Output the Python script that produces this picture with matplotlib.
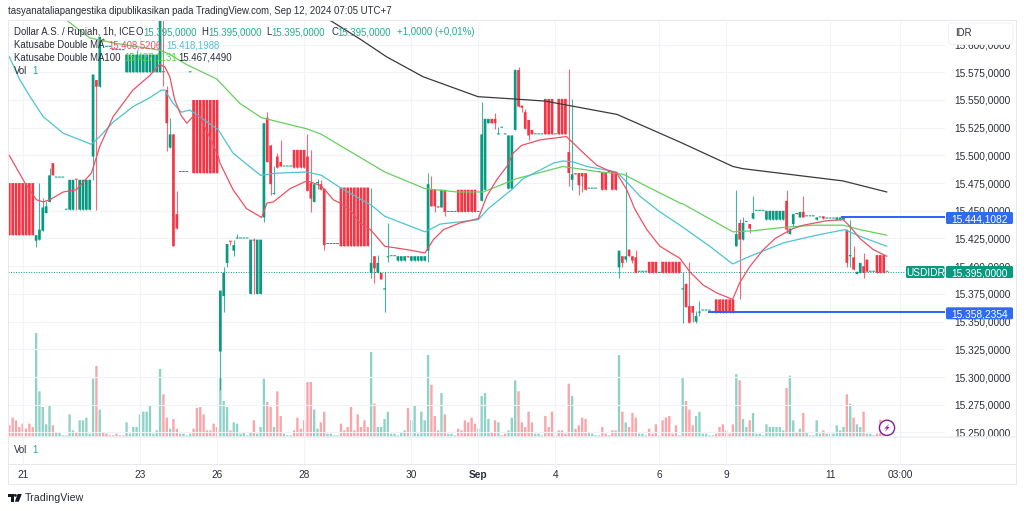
import matplotlib

matplotlib.use("Agg")
import matplotlib.pyplot as plt
import numpy as np
from matplotlib.patches import Circle, FancyBboxPatch, Polygon, Rectangle
from matplotlib.ticker import FuncFormatter

plt.rcParams["font.family"] = ["Liberation Sans", "DejaVu Sans"]

FS = 6.9
FS_SCALE = 7.3
UP = "#089981"
DOWN = "#F23645"
UP_VOL = "#8FD3C7"
DOWN_VOL = "#F9A5AA"
TEXT = "#2A2E39"
BLUE = "#2962FF"

# hourly bars
opens = (
    [15475] * 8 + [15423, 15424, 15432, 15448, 15458, 15493] + [15480] * 3 + [15451] * 3 + [15479] + [15451] * 4
    + [15499, 15568, 15562, 15605] + [15598] * 2 + [15595] * 4 + [15575] * 10 + [15575, 15576, 15559, 15507, 15519, 15447]
    + [15485] * 3 + [15575] + [15550] * 8 + [15323, 15373, 15403, 15423, 15414] + [15425] * 4
    + [15375, 15424, 15375, 15375, 15444, 15534, 15509, 15465, 15499, 15494] + [15490] * 3 + [15505] * 4
    + [15499, 15475, 15458, 15475, 15474, 15470] + [15420] * 4 + [15471] * 9
    + [15394, 15409, 15394, 15394, 15379, 15408, 15409, 15409] + [15405] * 3 + [15409] + [15405] * 5
    + [15414, 15469, 15469, 15454, 15453, 15469] + [15449] * 3 + [15469] * 6 + [15449]
    + [15459, 15469, 15529, 15533, 15533, 15519, 15525, 15519, 15470, 15470, 15523, 15577, 15545, 15539, 15532, 15523]
    + [15519] * 3 + [15551] * 3 + [15519] + [15551] * 3 + [15503, 15478, 15484, 15484, 15484, 15484]
    + [15470] * 3 + [15485] * 3 + [15485] + [15485] * 2
    + [15399, 15409, 15406, 15415, 15409, 15408] + [15395] * 3 + [15404] * 3 + [15394] + [15404] * 6
    + [15379, 15384, 15364, 15364, 15350, 15358] + [15360] * 3 + [15358] + [15370] * 6
    + [15418, 15439, 15424, 15440, 15438, 15443] + [15450] * 3 + [15442] * 6
    + [15459, 15429, 15438, 15448, 15444, 15449] + [15445] * 3 + [15442, 15444, 15445] + [15443] * 3 + [15442] * 3
    + [15433, 15409, 15408, 15393, 15394, 15400, 15406, 15395, 15395] + [15410] * 3 + [15395]
)
highs = (
    [15475] * 8 + [15428, 15475, 15462, 15459, 15489, 15493] + [15480] * 3 + [15451, 15478, 15478] + [15479] + [15478] * 4
    + [15573, 15568, 15607, 15606] + [15598] * 2 + [15595] * 4 + [15591] * 3 + [15595] + [15591] * 6
    + [15623, 15623, 15563, 15534, 15519, 15468]
    + [15485] * 3 + [15575] + [15550] * 8 + [15378, 15399, 15420, 15423, 15424] + [15429] + [15425] * 3
    + [15424, 15425, 15424, 15424, 15529, 15539, 15509, 15490, 15502, 15514] + [15490] * 3 + [15505] * 4
    + [15519, 15505, 15474, 15479, 15478, 15470] + [15420] * 4 + [15471] * 9
    + [15471, 15409, 15410, 15394, 15395, 15439, 15409, 15409] + [15409] * 3 + [15409] + [15409] * 5
    + [15484, 15481, 15469, 15454, 15469, 15469] + [15449] * 3 + [15469] * 6 + [15449]
    + [15548, 15533, 15533, 15533, 15538, 15526, 15525, 15519, 15518, 15518, 15578, 15580, 15545, 15542, 15532, 15523]
    + [15519] * 3 + [15551] * 3 + [15519] + [15551] * 3 + [15578, 15551, 15484, 15484, 15484, 15484]
    + [15470] * 3 + [15485] * 3 + [15485] + [15485] * 2
    + [15414, 15409, 15485, 15415, 15409, 15415] + [15395] * 3 + [15404] * 3 + [15394] + [15404] * 6
    + [15395, 15385, 15404, 15364, 15360, 15369] + [15360] * 3 + [15358] + [15370] * 6
    + [15469, 15443, 15444, 15440, 15438, 15463] + [15450] * 3 + [15450] * 6
    + [15469, 15434, 15447, 15448, 15449, 15463] + [15445] * 3 + [15444, 15444, 15445] + [15443] * 3 + [15444] * 3
    + [15433, 15442, 15418, 15395, 15403, 15412, 15406, 15395, 15395] + [15410] * 3 + [15395]
)
lows = (
    [15428] * 8 + [15417, 15424, 15432, 15448, 15458, 15482] + [15480] * 3 + [15451] * 3 + [15451] + [15451] * 4
    + [15478, 15451, 15562, 15603] + [15598] * 2 + [15595] * 4 + [15575] * 10 + [15575, 15563, 15504, 15507, 15418, 15434]
    + [15485] * 3 + [15575] + [15484] * 8 + [15288, 15359, 15399, 15419, 15409] + [15425] * 4
    + [15375, 15375, 15375, 15375, 15440, 15494, 15464, 15465, 15489, 15490] + [15490] * 3 + [15489] * 4
    + [15468, 15449, 15458, 15470, 15469, 15415] + [15420] * 4 + [15418] * 9
    + [15389, 15385, 15394, 15388, 15359, 15404, 15409, 15409] + [15405] * 3 + [15408] + [15405] * 5
    + [15404, 15454, 15449, 15453, 15453, 15445] + [15449] * 3 + [15449] * 6 + [15449]
    + [15459, 15469, 15529, 15529, 15524, 15519, 15525, 15519, 15470, 15470, 15523, 15544, 15539, 15524, 15514, 15519]
    + [15519] * 3 + [15519] * 3 + [15519] + [15519] * 3 + [15472, 15469, 15483, 15464, 15467, 15469]
    + [15470] * 3 + [15485, 15469, 15469] + [15485] + [15469] * 2
    + [15389, 15399, 15404, 15409, 15403, 15394] + [15395] * 3 + [15394] * 3 + [15394] + [15394] * 6
    + [15349, 15363, 15349, 15350, 15349, 15355] + [15360] * 3 + [15358] + [15358] * 6
    + [15418, 15370, 15424, 15440, 15430, 15443] + [15450] * 3 + [15442] * 6
    + [15430, 15429, 15435, 15447, 15444, 15444] + [15445] * 3 + [15442, 15444, 15443] + [15443] * 3 + [15442] * 3
    + [15399, 15399, 15397, 15393, 15394, 15389, 15395, 15395, 15395] + [15394] * 3 + [15395]
)
closes = (
    [15428] * 8 + [15428, 15433, 15453, 15454, 15482, 15482] + [15480] * 3 + [15451, 15478, 15478] + [15478] + [15478] * 4
    + [15573, 15562, 15607, 15603] + [15598] * 2 + [15595] * 4 + [15591] * 10 + [15623, 15575, 15529, 15519, 15418, 15434]
    + [15485] * 3 + [15575] + [15484] * 8 + [15378, 15394, 15420, 15422, 15419] + [15425] * 4
    + [15424, 15423, 15424, 15424, 15529, 15494, 15474, 15466, 15489, 15490] + [15490] * 3 + [15489] * 4
    + [15468, 15461, 15474, 15476, 15469, 15419] + [15420] * 4 + [15418] * 9
    + [15403, 15398, 15403, 15388, 15380, 15408, 15409, 15409] + [15409] * 3 + [15408] + [15409] * 5
    + [15474, 15454, 15454, 15453, 15469, 15449] + [15449] * 3 + [15449] * 6 + [15449]
    + [15519, 15533, 15533, 15529, 15529, 15519, 15525, 15519, 15518, 15518, 15577, 15544, 15543, 15524, 15518, 15519]
    + [15519] * 3 + [15519] * 3 + [15519] + [15519] * 3 + [15484, 15483, 15483, 15473, 15481, 15469]
    + [15470] * 3 + [15485, 15469, 15469] + [15485] + [15469] * 2
    + [15414, 15403, 15409, 15409, 15405, 15394] + [15395] * 3 + [15394] * 3 + [15394] + [15394] * 6
    + [15380, 15363, 15349, 15358, 15355, 15359] + [15360] * 3 + [15358] + [15358] * 6
    + [15429, 15424, 15439, 15440, 15434, 15448] + [15450] * 3 + [15450] * 6
    + [15433, 15434, 15447, 15447, 15449, 15444] + [15445] * 3 + [15444, 15444, 15443] + [15443] * 3 + [15444] * 3
    + [15403, 15410, 15397, 15395, 15403, 15394, 15395, 15395, 15395] + [15394] * 3 + [15395]
)

# chart-pane volume (arbitrary units) and whether each bar is up
volumes = [
    35, 58, 50, 30, 40, 25, 40, 30, 312, 137, 90, 38, 95, 35, 15, 15, 5, 5, 68, 20,
    15, 50, 50, 58, 10, 175, 213, 82, 15, 10, 5, 5, 10, 5, 5, 44, 10, 30, 30, 68,
    76, 76, 95, 10, 20, 204, 128, 58, 25, 54, 25, 10, 10, 5, 10, 25, 87, 90, 68, 20,
    20, 40, 30, 180, 108, 90, 20, 44, 40, 10, 15, 5, 15, 50, 10, 30, 175, 105, 90, 30,
    137, 63, 10, 5, 5, 20, 58, 25, 50, 165, 165, 82, 25, 44, 76, 10, 10, 5, 5, 40,
    20, 30, 90, 20, 68, 30, 50, 30, 255, 100, 30, 30, 54, 76, 10, 10, 5, 15, 20, 87,
    50, 95, 10, 76, 50, 246, 157, 63, 20, 132, 68, 10, 10, 5, 25, 20, 50, 44, 58, 40,
    25, 123, 132, 54, 15, 50, 44, 5, 10, 20, 58, 170, 137, 44, 30, 76, 44, 10, 10, 5,
    63, 30, 76, 5, 20, 20, 10, 160, 123, 25, 35, 58, 54, 15, 10, 5, 5, 30, 10, 5,
    20, 20, 246, 76, 44, 30, 72, 58, 10, 10, 5, 25, 10, 38, 5, 50, 58, 63, 10, 35,
    5, 180, 108, 82, 35, 63, 76, 10, 10, 5, 5, 10, 30, 38, 20, 10, 38, 189, 170, 54,
    30, 50, 72, 10, 10, 5, 38, 30, 30, 30, 30, 20, 147, 184, 50, 15, 25, 72, 15, 5,
    5, 50, 10, 20, 10, 10, 10, 35, 20, 30, 128, 100, 58, 38, 30, 76, 10, 10, 5, 10,
    52, 45, 5,
]
volume_up = (
    "rrrrrrrr" "ggggg" "r" "gggggg" "r" "ggggg" "r" "g" "rrrrrrr" "ggggggggggg" "rr" "g" "rr" "gggg"
    "rrrrrrrr" "ggg" "r" "gggggg" "r" "ggg" "rr" "g" "rr" "ggg" "rrrrrr" "gg" "rr" "gggg" "rrrrrrrrr"
    "g" "r" "ggggggggg" "r" "gggggg" "rrr" "g" "r" "ggg" "rrrrrr" "gggg" "rr" "gg" "r" "ggg" "rrrrr"
    "ggg" "rrr" "g" "rrrr" "g" "rrrr" "gggg" "rr" "g" "rr" "g" "r" "g" "rrr" "ggg" "rrr" "g" "rrrrrr"
    "g" "rrr" "gggggg" "rrrrrr" "g" "r" "gg" "r" "gggggggggg" "r" "gg" "r" "g" "r" "ggggg" "r" "gggggg"
    "r" "g" "r" "gg" "r" "ggg" "rrr" "g"
)

# moving averages, read at the bends of each line
fast_x = [0, 4.7, 8.1, 10.1, 12.1, 16.1, 20, 24.5, 27, 31, 36.9, 41.9, 44.9, 46.4, 47.9, 49.4, 51.3, 53, 54.8, 56.8,
          62.4, 62.9, 66.8, 70.8, 75.3, 76.9, 78.8, 83.8, 88.8, 92.8, 94.2, 96.7, 98.7, 101.7, 104.7, 107.8, 112.1,
          118.6, 124.1, 126.6, 129.6, 134.5, 140, 142.5, 145.5, 148.5, 150.4, 152.9, 158.4, 166.3, 170.4, 175.4,
          178.4, 181.3, 184.3, 186.8, 190.3, 194.2, 200.2, 203.1, 207.1, 211.1, 215.9, 218, 221.1, 225.1, 228.6,
          231.5, 234, 237, 243.9, 248.9, 250.9, 253.9, 257.9, 261.9]
fast_y = [15500, 15475, 15460, 15458, 15460, 15467, 15469, 15484, 15508, 15535, 15559, 15572, 15582, 15580, 15571,
          15550, 15536, 15529, 15535, 15536, 15499, 15493, 15469, 15452, 15444, 15457, 15458, 15470, 15477, 15473,
          15469, 15460, 15457, 15451, 15439, 15433, 15418, 15415, 15412, 15424, 15433, 15439, 15443, 15463, 15478,
          15490, 15502, 15509, 15514, 15517, 15505, 15491, 15487, 15484, 15469, 15451, 15433, 15418, 15407, 15395,
          15383, 15376, 15370, 15385, 15400, 15415, 15425, 15430, 15434, 15437, 15441, 15442, 15436, 15425, 15415, 15409]
mid_x = [0, 3.2, 6.2, 10.1, 16.1, 24.5, 27, 31, 36.9, 41.9, 45.4, 46.4, 48.9, 51.4, 53.9, 62.4, 66.8, 75, 79.8, 88.8,
         93.2, 96.7, 98.7, 108.1, 112.1, 124.1, 128.6, 140, 143, 149.9, 153.4, 162.4, 165.3, 168.4, 172.4, 181.3,
         184.3, 188.3, 194.2, 200.2, 209.1, 215.9, 221.1, 231, 241, 249.4, 253.9, 261.9]
mid_y = [15589, 15568, 15553, 15535, 15520, 15510, 15517, 15530, 15544, 15552, 15559, 15559, 15547, 15539, 15541,
         15523, 15502, 15482, 15484, 15485, 15482, 15475, 15471, 15455, 15445, 15431, 15438, 15442, 15452, 15469,
         15479, 15493, 15495, 15494, 15490, 15485, 15476, 15463, 15449, 15437, 15418, 15402, 15409, 15421, 15428,
         15433, 15427, 15418]
slow_x = [17.1, 24, 32, 45, 48, 52.9, 61.9, 68.8, 75.3, 88.8, 93.2, 98.7, 112.1, 124.1, 133.6, 141.5, 151.4, 165.3,
          176.4, 183.3, 190.3, 200.2, 201.2, 216, 222.1, 231, 240, 248.9, 253.9, 261.9]
slow_y = [15622, 15606, 15601, 15595, 15591, 15582, 15569, 15547, 15534, 15524, 15519, 15509, 15485, 15470, 15467,
          15467, 15479, 15490, 15485, 15483, 15472, 15457, 15456, 15431, 15432, 15435, 15437, 15437, 15433, 15428]
long_x = [95.7, 105.2, 112.6, 123.5, 139.9, 150.3, 160, 181.4, 200.2, 216, 219, 248.8, 261.9]
long_y = [15622, 15604, 15589, 15571, 15553, 15551, 15549, 15537, 15512, 15490, 15488, 15477, 15467]

price_ticks = list(range(15250, 15625, 25))
date_ticks = [4, 39, 62, 88, 120, 140, 163, 194, 214, 245, 266]
date_labels = ["21", "23", "26", "28", "30", "Sep", "4", "6", "9", "11", "03:00"]
last_price = 15395.0
support = 15358.2354
resistance = 15444.1082
support_from = 208.9
resistance_from = 248.5


def id_price(v, _pos=None):
    return f"{v:,.4f}".replace(",", "X").replace(".", ",").replace("X", ".")


W, H = 1024, 511
PANE_L, PANE_R, PANE_T, PANE_B, STRIP_B = 8, 945, 20, 437, 464
fig = plt.figure(figsize=(W / 100, H / 100), dpi=100, facecolor="white")

x_lim = (-0.388, 279.3)
ax = fig.add_axes([PANE_L / W, 1 - PANE_B / H, (PANE_R - PANE_L) / W, (PANE_B - PANE_T) / H])
ax.set_xlim(x_lim)
ax.set_ylim(15245.85, 15622.2)
ax.set_zorder(2)
ax.patch.set_visible(False)
for side in ax.spines.values():
    side.set_visible(False)

vol_ax = ax.twinx()
vol_ax.set_ylim(0, 1251)
vol_ax.set_zorder(1)
vol_ax.axis("off")

x = np.arange(len(closes))
o, h, l, c = map(np.array, (opens, highs, lows, closes))
assert len(o) == len(h) == len(l) == len(c) == len(volumes) == len(volume_up), (
    len(o), len(h), len(l), len(c), len(volumes), len(volume_up))

vol_ax.bar(np.arange(len(volumes)), volumes, width=0.7,
           color=[UP_VOL if d == "g" else DOWN_VOL for d in volume_up], linewidth=0, snap=False)

ax.set_yticks(price_ticks)
ax.yaxis.set_major_formatter(FuncFormatter(id_price))
ax.yaxis.tick_right()
ax.set_xticks(date_ticks)
ax.tick_params(axis="both", length=0, labelbottom=False)
ax.tick_params(axis="y", pad=6.5, labelsize=FS_SCALE, labelcolor=TEXT)
ax.grid(True, color="#F1F3F8", linewidth=0.8)
ax.set_axisbelow(True)

ax.axhline(last_price, color=UP, linestyle=(0, (1, 1.6)), linewidth=0.7, zorder=1.5)

colors = np.where(c >= o, UP, DOWN)
ax.vlines(x, l, h, colors=colors, linewidth=0.8, alpha=0.75, zorder=2)
ax.bar(x, np.maximum(np.abs(c - o), 0.9), bottom=np.minimum(o, c), width=0.8, color=colors,
       linewidth=0, zorder=2.5, snap=False)

ax.plot(long_x, long_y, color="#3A3A3A", linewidth=0.9, zorder=3)
ax.plot(slow_x, slow_y, color="#66CF5F", linewidth=0.9, zorder=3)
ax.plot(mid_x, mid_y, color="#4DC3D3", linewidth=0.9, zorder=3)
ax.plot(fast_x, fast_y, color="#EB5264", linewidth=0.9, zorder=3)

ax.plot([resistance_from, x_lim[1]], [resistance, resistance], color=BLUE, linewidth=1.4, zorder=3.5)
ax.plot([support_from, x_lim[1]], [support, support], color=BLUE, linewidth=1.4, zorder=3.5)

# volume legend strip and the time scale under it
strip = fig.add_axes([PANE_L / W, 1 - STRIP_B / H, (PANE_R - PANE_L) / W, (STRIP_B - PANE_B) / H])
strip.set_xlim(x_lim)
strip.set_ylim(0, 1)
strip.set_yticks([])
strip.set_xticks(date_ticks)
strip.set_xticklabels(date_labels, fontsize=FS_SCALE, color=TEXT)
strip.get_xticklabels()[5].set_fontweight("bold")
strip.tick_params(axis="x", length=0, pad=4.5)
strip.grid(True, axis="x", color="#F1F3F8", linewidth=0.8)
for side in strip.spines.values():
    side.set_visible(False)

# everything placed by pixel on top of the panes
ov = fig.add_axes([0, 0, 1, 1], zorder=5)
ov.set_xlim(0, W)
ov.set_ylim(H, 0)
ov.axis("off")

frame = "#E6E8EE"
ov.plot([8, 1016, 1016, 8, 8], [20, 20, 484, 484, 20], color=frame, linewidth=0.7)
ov.plot([8, 1016], [464, 464], color=frame, linewidth=0.7)
ov.plot([8, 1016], [437.5, 437.5], color="#EEF0F4", linewidth=1.2)

ov.text(8, 11.5, "tasyanataliapangestika dipublikasikan pada TradingView.com, Sep 12, 2024 07:05 UTC+7",
        fontsize=FS, color=TEXT, va="center")

QUOTE = "#22AB94"
legend_items = [
    (14, 32.3, "Dollar A.S. / Rupiah, 1h, ICE", TEXT),
    (135, 32.3, "O", TEXT), (143, 32.3, "15.395,0000", QUOTE),
    (201, 32.3, "H", TEXT), (208, 32.3, "15.395,0000", QUOTE),
    (266.7, 32.3, "L", TEXT), (271.7, 32.3, "15.395,0000", QUOTE),
    (331, 32.3, "C", TEXT), (337, 32.3, "15.395,0000", QUOTE),
    (396.7, 32.3, "+1,0000 (+0,01%)", QUOTE),
    (14, 45, "Katusabe Double MA", TEXT),
    (108.3, 45, "15.408,5206", "#EB5264"), (166.7, 45, "15.418,1988", "#4DC3D3"),
    (14, 57.8, "Katusabe Double MA100", TEXT),
    (124, 57.8, "15.427,1131", "#5CD14F"), (178.3, 57.8, "15.467,4490", TEXT),
    (14, 70.7, "Vol", TEXT), (32, 70.7, "1", QUOTE),
    (14, 450, "Vol", TEXT), (32, 450, "1", QUOTE),
]
for tx, ty, label, col in legend_items:
    ov.text(tx, ty, label, fontsize=FS, color=col, va="center")

# the currency button sits over the top price label and hides most of it
ov.add_patch(FancyBboxPatch((948.5, 23), 64.5, 21.5, boxstyle="round,pad=0,rounding_size=3",
                            facecolor="white", edgecolor="#EEF0F4", linewidth=0.7))
ov.text(955, 33, "IDR", fontsize=FS, color=TEXT, va="center")


def badge(x0, x1, y0, y1, label, fill):
    ov.add_patch(FancyBboxPatch((x0, y0), x1 - x0, y1 - y0, boxstyle="round,pad=0,rounding_size=1.5",
                                facecolor=fill, edgecolor="none"))
    ov.text((x0 + x1) / 2, (y0 + y1) / 2, label, fontsize=FS_SCALE, color="white", ha="center", va="center_baseline")


badge(906, 944.5, 266, 278, "USDIDR", UP)
badge(946, 1013, 266, 278, id_price(last_price), UP)
badge(946, 1013, 212, 224, id_price(resistance), "#2E6BF2")
badge(946, 1013, 307.3, 319.3, id_price(support), "#2E6BF2")

# trading-session bolt
ov.add_patch(Circle((887, 427.8), 7.6, facecolor="white", edgecolor="#7B1FA2", linewidth=1.0))
ov.add_patch(Polygon([(889.3, 423.5), (884.3, 428.6), (886.8, 428.6), (884.8, 432.2), (889.7, 427), (887.2, 427)],
                     facecolor="#9C27B0", edgecolor="none"))

# logo
ov.add_patch(Rectangle((7.7, 494), 5.8, 2.6, facecolor="#131722", edgecolor="none"))
ov.add_patch(Rectangle((10.5, 494), 3, 7.7, facecolor="#131722", edgecolor="none"))
ov.add_patch(Circle((15.4, 495.4), 1.4, facecolor="#131722", edgecolor="none"))
ov.add_patch(Polygon([(17.6, 494), (21.8, 494), (18.8, 501.7), (14.9, 501.7)], facecolor="#131722", edgecolor="none"))
ov.text(25, 498, "TradingView", fontsize=7.7, color=TEXT, va="center")

fig.savefig("out.png", dpi=100)
